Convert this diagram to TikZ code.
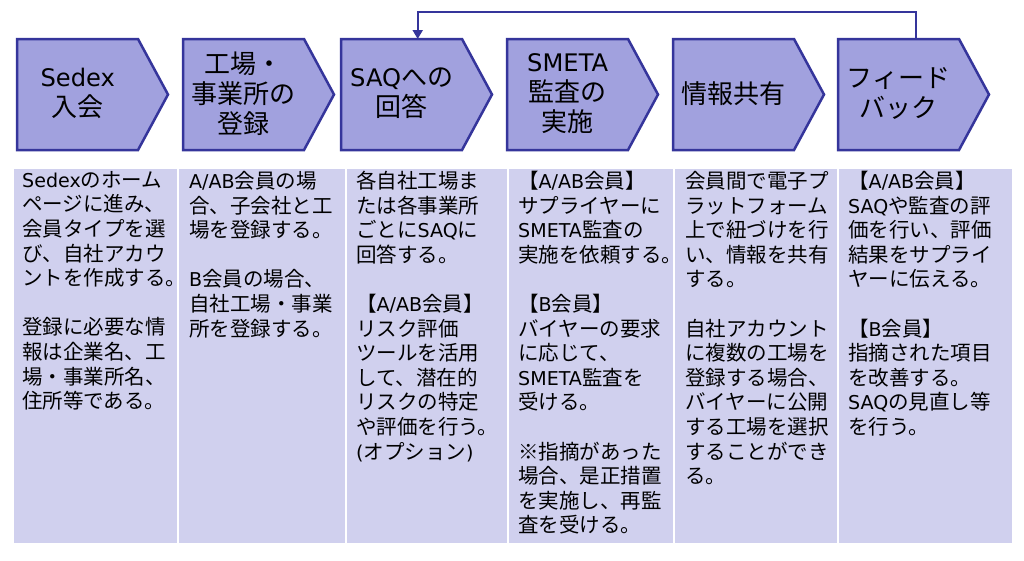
\documentclass[tikz,border=0pt]{standalone}
\usepackage{fontspec}
\setmainfont{Noto Sans CJK JP}
\newfontfamily\latf[Scale=0.93]{DejaVu Sans}
\newcommand\lat[1]{{\latf #1}}
\usetikzlibrary{arrows.meta,calc}
\definecolor{chevfill}{HTML}{A1A1DE}
\definecolor{chevline}{HTML}{35359B}
\definecolor{cellfill}{HTML}{D0D0EE}
\tikzset{
  chevst/.style={fill=chevfill,draw=chevline,line width=2.5pt,line join=miter},
  hdr/.style={minimum width=121pt,minimum height=109pt,inner sep=0pt,align=center,
    font=\fontsize{26}{30}\selectfont,anchor=north west},
  cellst/.style={fill=cellfill,draw=white,line width=1.5pt,anchor=north west,inner sep=0pt},
  body/.style={anchor=north west,inner sep=0pt,align=left,font=\fontsize{20.5}{24.6}\selectfont},
  fb/.style={draw=chevline,line width=2pt,-{Triangle[length=9pt,width=10pt]}}
}
\newcommand\chev[4]{%
  \draw[chevst] (#1,-39) -- ++(121,0) -- ++(30,-55.5) -- ++(-30,-55.5) -- ++(-121,0) -- cycle;
  \node[hdr] (#2) at (#1,-39) {#3};}
\begin{document}
\begin{tikzpicture}[x=1pt,y=1pt]
\useasboundingbox[fill=white] (0,0) rectangle (1024,-560);
% header chevrons
\chev{17}{c1}{\lat{Sedex}\\入会}{}
\chev{183}{c2}{工場・\\事業所の\\登録}{}
\chev{341}{c3}{\lat{SAQ}への\\回答}{}
\chev{507}{c4}{\lat{SMETA}\\監査の\\実施}{}
\chev{673}{c5}{情報共有}{}
\chev{838}{c6}{フィード\\バック}{}
% feedback connector
\draw[fb] ([xshift=17]c6.north) |- ([xshift=16,yshift=27.5]c3.north) -- ([xshift=16]c3.north);
% body cells
\node[cellst,minimum width=165pt,minimum height=376pt] (b1) at (12,-167) {};
\node[cellst,minimum width=168pt,minimum height=376pt] (b2) at (177,-167) {};
\node[cellst,minimum width=162pt,minimum height=376pt] (b3) at (345,-167) {};
\node[cellst,minimum width=166pt,minimum height=376pt] (b4) at (507,-167) {};
\node[cellst,minimum width=164pt,minimum height=376pt] (b5) at (673,-167) {};
\node[cellst,minimum width=175pt,minimum height=376pt] (b6) at (837,-167) {};
% body texts
\node[body] (t1) at (22,-171) {\lat{Sedex}のホーム\\ページに進み、\\会員タイプを選\\び、自社アカウ\\ントを作成する。\\[24.6pt]登録に必要な情\\報は企業名、工\\場・事業所名、\\住所等である。};
\node[body] (t2) at (189,-171) {\lat{A/AB}会員の場\\合、子会社と工\\場を登録する。\\[24.6pt]\lat{B}会員の場合、\\自社工場・事業\\所を登録する。};
\node[body] (t3) at (356,-171) {各自社工場ま\\たは各事業所\\ごとに\lat{SAQ}に\\回答する。\\[24.6pt]【\lat{A/AB}会員】\\リスク評価\\ツールを活用\\して、潜在的\\リスクの特定\\や評価を行う。\\\lat{(}オプション\lat{)}};
\node[body] (t4) at (518,-171) {【\lat{A/AB}会員】\\サプライヤーに\\\lat{SMETA}監査の\\実施を依頼する。\\[24.6pt]【\lat{B}会員】\\バイヤーの要求\\に応じて、\\\lat{SMETA}監査を\\受ける。\\[24.6pt]※指摘があった\\場合、是正措置\\を実施し、再監\\査を受ける。};
\node[body] (t5) at (685,-171) {会員間で電子プ\\ラットフォーム\\上で紐づけを行\\い、情報を共有\\する。\\[24.6pt]自社アカウント\\に複数の工場を\\登録する場合、\\バイヤーに公開\\する工場を選択\\することができ\\る。};
\node[body] (t6) at (848,-171) {【\lat{A/AB}会員】\\\lat{SAQ}や監査の評\\価を行い、評価\\結果をサプライ\\ヤーに伝える。\\[24.6pt]【\lat{B}会員】\\指摘された項目\\を改善する。\\\lat{SAQ}の見直し等\\を行う。};
\end{tikzpicture}
\end{document}
